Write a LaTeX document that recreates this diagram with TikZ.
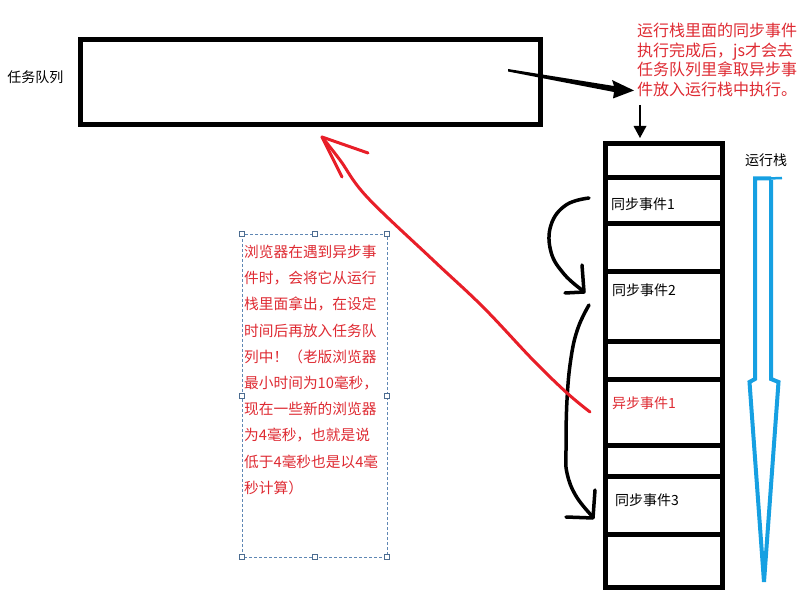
\documentclass[tikz,border=0pt]{standalone}
\usepackage{fontspec}
\setmainfont{Noto Sans CJK SC}
\definecolor{redline}{RGB}{232,30,40}
\definecolor{redtext}{RGB}{222,42,50}
\definecolor{bluearr}{RGB}{22,160,226}
\definecolor{dashbox}{RGB}{95,135,180}
\begin{document}
\begin{tikzpicture}[x=1pt,y=-1pt,
  thickbox/.style={draw=black,line width=5pt},
  hand/.style={draw=black,line width=3.5pt,line cap=round,line join=round},
  redhand/.style={draw=redline,line width=3pt,line cap=round,line join=round},
  handle/.style={draw=dashbox!80!black,fill=white,line width=0.6pt,minimum size=5pt,inner sep=0pt,rectangle},
  lbl/.style={inner sep=0pt,font=\fontsize{14}{16}\selectfont}]
\useasboundingbox (0,0) rectangle (804,604);

% task queue
\draw[thickbox] (80.5,39.5) rectangle (540.5,124.5);
\node[lbl] (qlabel) at (35.5,77) {任务队列};

% big arrow to stack
\fill[black] (508,69) -- (614,86) -- (612,80) -- (634,90.5) -- (613,98.5) -- (614,92) -- (508,71.5) -- cycle;

% top-right red text
\node[inner sep=0pt,anchor=north west,align=left,text=redtext,font=\fontsize{16}{19.5}\selectfont] (rtext) at (637,23) {运行栈里面的同步事件\\执行完成后，js才会去\\任务队列里拿取异步事\\件放入运行栈中执行。};

% small down arrow
\draw[line width=2.5pt] (640,105) -- (640,128);
\fill[black] (633.5,126) -- (646.5,126) -- (640,138) -- cycle;

% stack
\draw[thickbox] (605.5,143.5) rectangle (722.5,587.5);
\foreach \yy in {178,224,272,342,379,445,476,534}
  \draw[line width=5pt] (603,\yy) -- (725,\yy);
\node[lbl,anchor=west] (s1) at (611,204) {同步事件1};
\node[lbl,anchor=west] (s2) at (612,290) {同步事件2};
\node[lbl,anchor=west,text=redtext] (a1) at (612,403) {异步事件1};
\node[lbl,anchor=west] (s3) at (615,500) {同步事件3};
\node[lbl] (stlabel) at (766,160) {运行栈};

% blue hollow arrow
\draw[bluearr,line width=4pt,line join=miter] (771,180) -- (771,379) -- (778.5,382) -- (764,582) -- (749.5,382) -- (755,379) -- (755,178.5) -- (771,178.5);
\draw[bluearr,line width=2.5pt] (769,178.5) -- (782,178);

% black hand-drawn arrows
\draw[hand] plot[smooth,tension=0.7] coordinates {(589,198) (566,205) (551,225) (551,252) (564,274) (582,290)};
\draw[hand] (582,265) -- (584,292) -- (565,293);
\draw[hand] plot[smooth,tension=0.7] coordinates {(589,305) (578,328) (571,358) (567,400) (566,450) (567,473) (576,496) (592,516)};
\draw[hand] (595,490) -- (593,518) -- (566,517);

% red hand-drawn arrow
\draw[redhand] plot[smooth,tension=0.6] coordinates {(590,412) (567,393) (533,360) (483,307) (433,260) (367,197) (340,160) (322,137)};
\draw[redhand] (368,153) -- (322,137) -- (342,177);

% dashed selection box with text
\draw[dashbox,dashed,line width=0.7pt,dash pattern=on 3pt off 2pt] (242,234) rectangle (387,557);
\foreach \hx/\hy in {242/234,314.5/234,387/234,242/395.5,387/395.5,242/557,314.5/557,387/557}
  \node[handle] at (\hx,\hy) {};
\node[inner sep=0pt,anchor=north west,align=left,text=redtext,font=\fontsize{14.7}{26.2}\selectfont] (btext) at (244,245) {浏览器在遇到异步事\\件时，会将它从运行\\栈里面拿出，在设定\\时间后再放入任务队\\列中！（老版浏览器\\最小时间为10毫秒，\\现在一些新的浏览器\\为4毫秒，也就是说\\低于4毫秒也是以4毫\\秒计算）};
\end{tikzpicture}
\end{document}
